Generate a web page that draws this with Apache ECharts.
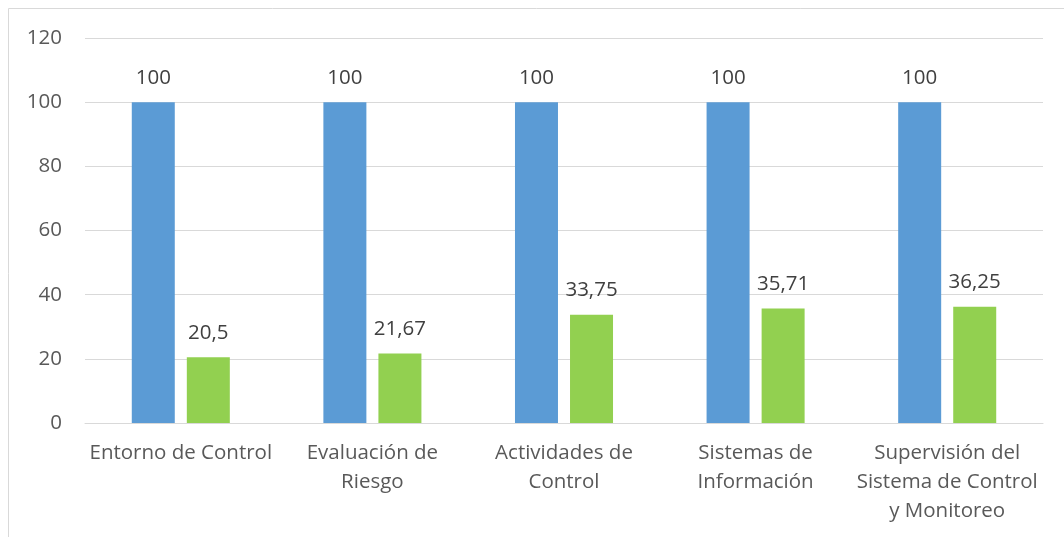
<!DOCTYPE html>
<html><head><meta charset="utf-8">
<script src="https://cdn.jsdelivr.net/npm/echarts@6/dist/echarts.min.js"></script>
<style>html,body{margin:0;padding:0;background:#fff}#c{width:1064px;height:537px}</style>
</head><body><div id="c"></div>
<script>
var categories = ["Entorno de Control", "Evaluación de\nRiesgo", "Actividades de\nControl", "Sistemas de\nInformación", "Supervisión del\nSistema de Control\ny Monitoreo"];
var seriesA = [100, 100, 100, 100, 100];
var seriesB = [20.5, 21.67, 33.75, 35.71, 36.25];
var yTicks = {min: 0, max: 120, interval: 20};

var font = "'Open Sans', sans-serif";
var fs = 20.5;
var txt = '#404040';
var axisTxt = '#595959';
var chart = echarts.init(document.getElementById('c'), null, {renderer: 'canvas'});
function fmt(p){ return String(p.value).replace('.', ','); }
chart.setOption({
  animation: false,
  graphic: [{type: 'rect', shape: {x: 8.5, y: 8.5, width: 1200, height: 800}, style: {fill: 'none', stroke: '#d9d9d9', lineWidth: 1}, silent: true}],
  grid: {left: 85, right: 21, top: 38, bottom: 114, containLabel: false},
  xAxis: {
    type: 'category', data: categories,
    axisLine: {lineStyle: {color: '#d9d9d9', width: 1}},
    axisTick: {show: false},
    axisLabel: {color: axisTxt, fontFamily: font, fontSize: fs, lineHeight: 29, margin: 16, interval: 0}
  },
  yAxis: {
    type: 'value', min: yTicks.min, max: yTicks.max, interval: yTicks.interval,
    axisLine: {show: false}, axisTick: {show: false},
    splitLine: {lineStyle: {color: '#d9d9d9', width: 1}},
    axisLabel: {color: axisTxt, fontFamily: font, fontSize: fs, margin: 23}
  },
  series: [
    {type: 'bar', data: seriesA, barWidth: 43, barGap: '28%', itemStyle: {color: '#5B9BD5'},
     label: {show: true, position: 'top', distance: 14, color: txt, fontFamily: font, fontSize: fs, formatter: fmt}},
    {type: 'bar', data: seriesB, barWidth: 43, barGap: '28%', itemStyle: {color: '#92D050'},
     label: {show: true, position: 'top', distance: 14, color: txt, fontFamily: font, fontSize: fs, formatter: fmt}}
  ]
});
</script></body></html>
